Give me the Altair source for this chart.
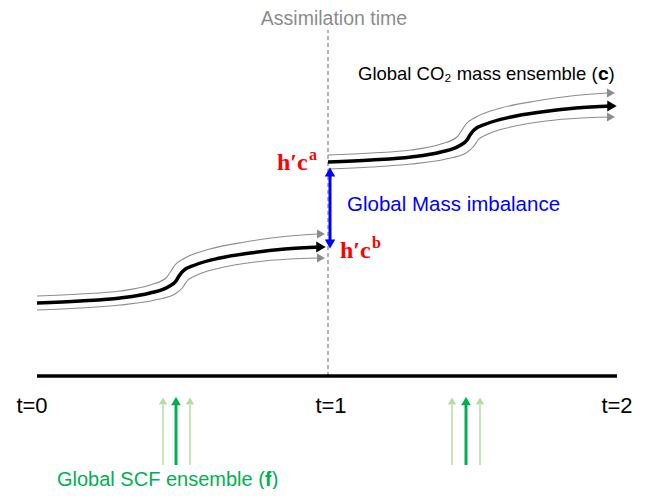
import altair as alt
import pandas as pd

# Schematic units: x = time (t=0 -> 0, t=1 -> 291, t=2 -> 582); y = mass level (time axis at 0)
X_DOMAIN = [-29, 612]
Y_DOMAIN = [-113, 368]

# ---- ensemble trajectories, window 1 (t=0 -> t=1) ----
w1_main_x = [0, 43, 83, 113, 131, 139, 142, 146, 158, 183, 213, 248, 283]
w1_main_y = [73, 75, 78, 83, 89, 95, 100, 105, 111, 118, 123, 127, 129]
w1_up_x = [0, 43, 83, 113, 129, 134, 138, 148, 173, 208, 243, 280]
w1_up_y = [80, 82, 85, 91, 98, 105, 111, 118, 127, 134, 139, 142]
w1_lo_x = [0, 43, 83, 118, 138, 146, 150, 158, 183, 218, 253, 280]
w1_lo_y = [66, 68, 71, 76, 82, 89, 95, 100, 108, 114, 117, 118]

# ---- ensemble trajectories, window 2 (t=1 -> t=2) ----
w2_main_x = [291, 334, 374, 404, 422, 430, 433, 437, 449, 474, 504, 539, 574]
w2_main_y = [214, 216, 219, 224, 230, 236, 241, 246, 252, 259, 264, 268, 270]
w2_up_x = [291, 334, 374, 404, 420, 425, 429, 439, 464, 499, 534, 571]
w2_up_y = [221, 223, 226, 232, 239, 246, 252, 259, 268, 275, 280, 283]
w2_lo_x = [291, 334, 374, 409, 429, 437, 441, 449, 474, 509, 544, 571]
w2_lo_y = [207, 209, 212, 217, 223, 230, 236, 241, 249, 255, 258, 259]

# arrow heads at trajectory ends
head_x = [284, 284, 284, 575, 574, 574]
head_y = [129, 142, 118, 270, 283, 259]
head_kind = ["main", "member", "member", "main", "member", "member"]

# mass imbalance (h'c^a -> h'c^b)
imb_x = 293
imb_top = 204
imb_bot = 132

# time axis
axis_y = 0
axis_x0, axis_x1 = 0, 580
assim_x = 291
assim_top = 346

# surface carbon flux ensemble arrows
flux_x = [126, 139, 153, 415, 429, 443]
flux_kind = ["member", "main", "member", "member", "main", "member"]
flux_bottom = -89
flux_top = -29
flux_head = -25

tick_labels = ["t=0", "t=1", "t=2"]
tick_x = [-5, 294, 580]
tick_y = -37

TRAJ_COLOR = {"main": "#000000", "member": "#8c8c8c"}
TRAJ_WIDTH = {"main": 3.5, "member": 1.1}
TRAJ_HEAD = {"main": 120, "member": 85}
FLUX_COLOR = {"main": "#00b050", "member": "#b5dca0"}
FLUX_WIDTH = {"main": 3, "member": 1.5}
FLUX_HEAD = {"main": 95, "member": 70}

rows = []
for name, kind, xs_, ys_ in [
    ("w1m", "main", w1_main_x, w1_main_y), ("w1u", "member", w1_up_x, w1_up_y),
    ("w1l", "member", w1_lo_x, w1_lo_y), ("w2m", "main", w2_main_x, w2_main_y),
    ("w2u", "member", w2_up_x, w2_up_y), ("w2l", "member", w2_lo_x, w2_lo_y)]:
    for i, (a, b) in enumerate(zip(xs_, ys_)):
        rows.append({"series": name, "x": a, "y": b, "o": i,
                     "c": TRAJ_COLOR[kind], "w": TRAJ_WIDTH[kind]})
curves = pd.DataFrame(rows)

xs = alt.Scale(domain=X_DOMAIN, nice=False, zero=False)
ys = alt.Scale(domain=Y_DOMAIN, nice=False, zero=False)
X = lambda f="x": alt.X(f"{f}:Q", scale=xs, axis=None)
Y = lambda f="y": alt.Y(f"{f}:Q", scale=ys, axis=None)

lines = alt.Chart(curves).mark_line(interpolate="monotone").encode(
    x=X(), y=Y(), detail="series:N", order="o:Q",
    color=alt.Color("c:N", scale=None),
    strokeWidth=alt.StrokeWidth("w:Q", scale=None),
)

heads_df = pd.DataFrame({"x": head_x, "y": head_y,
                         "c": [TRAJ_COLOR[k] for k in head_kind],
                         "s": [TRAJ_HEAD[k] for k in head_kind]})
heads = alt.Chart(heads_df).mark_point(
    shape="triangle-right", filled=True, opacity=1, strokeWidth=0).encode(
    x=X(), y=Y(), color=alt.Color("c:N", scale=None), size=alt.Size("s:Q", scale=None))

axis_line = alt.Chart(pd.DataFrame({"x": [axis_x0], "x2": [axis_x1], "y": [axis_y]})).mark_rule(
    color="#000000", strokeWidth=3.5).encode(x=X(), x2="x2:Q", y=Y())

assim_line = alt.Chart(pd.DataFrame({"x": [assim_x], "y": [axis_y], "y2": [assim_top]})).mark_rule(
    color="#8c8c8c", strokeWidth=1.3, strokeDash=[4, 3]).encode(x=X(), y=Y(), y2="y2:Q")

imb_line = alt.Chart(pd.DataFrame({"x": [imb_x], "y": [imb_bot], "y2": [imb_top]})).mark_rule(
    color="#0000ff", strokeWidth=3).encode(x=X(), y=Y(), y2="y2:Q")
imb_heads = alt.Chart(pd.DataFrame({"x": [imb_x, imb_x], "y": [imb_top, imb_bot],
                                    "shape": ["triangle-up", "triangle-down"]})).mark_point(
    filled=True, opacity=1, strokeWidth=0, color="#0000ff", size=110).encode(
    x=X(), y=Y(), shape=alt.Shape("shape:N", scale=None))

flux_df = pd.DataFrame({"x": flux_x, "y": [flux_bottom] * 6,
                        "y2": [flux_top] * 6, "yh": [flux_head] * 6,
                        "c": [FLUX_COLOR[k] for k in flux_kind],
                        "w": [FLUX_WIDTH[k] for k in flux_kind],
                        "s": [FLUX_HEAD[k] for k in flux_kind]})
flux_lines = alt.Chart(flux_df).mark_rule().encode(
    x=X(), y=Y(), y2="y2:Q",
    color=alt.Color("c:N", scale=None), strokeWidth=alt.StrokeWidth("w:Q", scale=None))
flux_heads = alt.Chart(flux_df).mark_point(shape="triangle-up", filled=True, opacity=1, strokeWidth=0).encode(
    x=X(), y=Y("yh"), color=alt.Color("c:N", scale=None), size=alt.Size("s:Q", scale=None))


def txt(text, x, y, size, color, align="left", baseline="alphabetic", font="Liberation Sans", weight="normal"):
    return alt.Chart(pd.DataFrame({"x": [x], "y": [y], "t": [text]})).mark_text(
        align=align, baseline=baseline, font=font, fontSize=size, fontWeight=weight, color=color).encode(
        x=X(), y=Y(), text="t:N")


ticks = alt.Chart(pd.DataFrame({"x": tick_x, "t": tick_labels, "y": [tick_y] * 3})).mark_text(
    align="center", baseline="alphabetic", font="Liberation Sans", fontSize=22, color="#000000").encode(
    x=X(), y=Y(), text="t:N")

SERIF = "Liberation Serif"
texts = [
    txt("Assimilation time", 297, 357, 19.5, "#8c8c8c", align="center", baseline="middle"),
    txt("Global CO\u2082 mass ensemble (\U0001D41C)", 321, 296, 18.5, "#000000"),
    txt("Global Mass imbalance", 310, 171, 20.5, "#0000ff", baseline="middle"),
    txt("h\u2032c", 240, 206, 24, "#ff0000", font=SERIF, weight="bold"),
    txt("a", 272, 216, 16, "#ff0000", font=SERIF, weight="bold"),
    txt("h\u2032c", 303, 118, 24, "#ff0000", font=SERIF, weight="bold"),
    txt("b", 335, 128, 16, "#ff0000", font=SERIF, weight="bold"),
    txt("Global SCF ensemble (\U0001D41F)", 20, -104, 20, "#00b050", baseline="middle"),
]

chart = alt.layer(
    assim_line, axis_line, lines, heads, imb_line, imb_heads, flux_lines, flux_heads, ticks, *texts
).properties(width=641, height=481, padding=0, autosize="none").configure_view(stroke=None)

chart.save("out.html", embed_options={"renderer": "svg", "actions": False})
